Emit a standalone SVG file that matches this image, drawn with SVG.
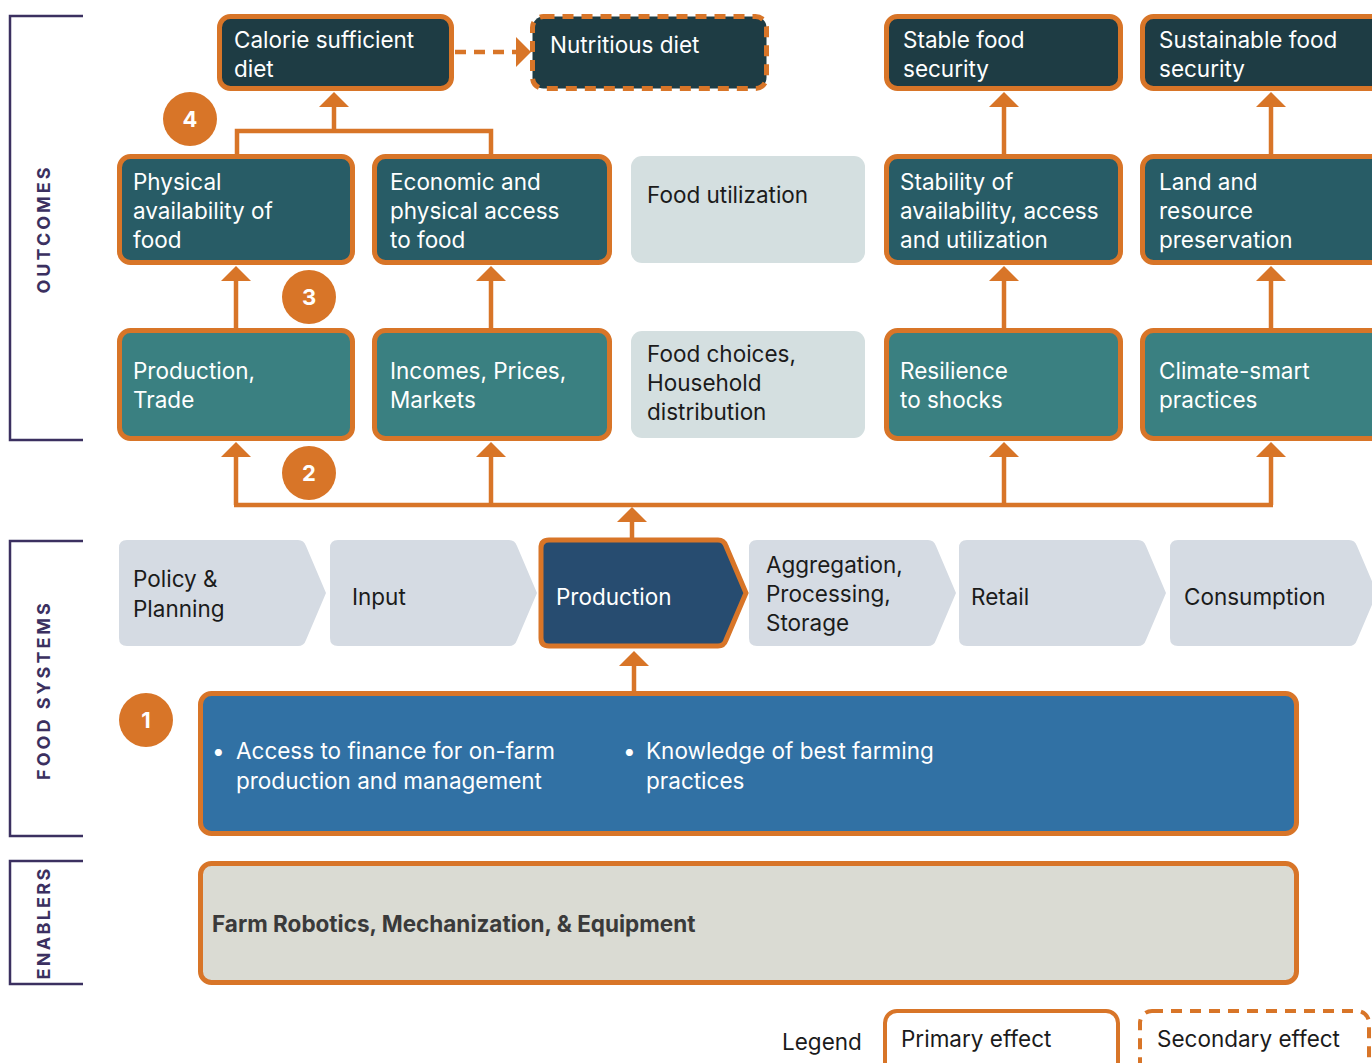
<svg xmlns="http://www.w3.org/2000/svg" width="1372" height="1063" viewBox="0 0 1372 1063">
<defs>
<style>
text{font-family:Inter,"Noto Sans","Liberation Sans",sans-serif;font-size:22.5px}
.w{fill:#ffffff}
.k{fill:#1b1b1b}
.box{stroke:#D87528;stroke-width:5}
.top{fill:#1E3C44}
.mid{fill:#285C66}
.bot{fill:#3A8081}
.light{fill:#D4DFE0}
.chev{fill:#D5DBE3}
.brk{fill:none;stroke:#3B3060;stroke-width:2.5}
.lab{font-weight:700;font-size:18px;letter-spacing:3px;fill:#3B3060}
.badge{fill:#D87528}
.num{font-weight:700;font-size:22px;fill:#ffffff;text-anchor:middle}
.con{fill:none;stroke:#D87528;stroke-width:4.5}
.dash{stroke-dasharray:11 8}
</style>
<marker id="ah" markerUnits="userSpaceOnUse" viewBox="0 0 15 30" refX="0" refY="15" markerWidth="15" markerHeight="30" orient="auto">
<path d="M0,0 L15,15 L0,30 Z" fill="#D87528"/>
</marker>
</defs>
<rect width="1372" height="1063" fill="#ffffff"/>

<g id="brackets">
<path class="brk" d="M83,16 H10 V440 H83"/>
<path class="brk" d="M83,541 H10 V836 H83"/>
<path class="brk" d="M83,861 H10 V984 H83"/>
<text class="lab" transform="translate(50,229) rotate(-90)" text-anchor="middle">OUTCOMES</text>
<text class="lab" transform="translate(50,690) rotate(-90)" text-anchor="middle">FOOD SYSTEMS</text>
<text class="lab" transform="translate(50,923) rotate(-90)" text-anchor="middle" style="letter-spacing:2.3px">ENABLERS</text>
</g>

<g id="connectors">
<path class="con" d="M237,154 V131 H491 V154"/>
<path class="con" d="M334,131 V107" marker-end="url(#ah)"/>
<path class="con dash" d="M455,52 H516" marker-end="url(#ah)"/>
<path class="con" d="M1004,154 V107" marker-end="url(#ah)"/>
<path class="con" d="M1271,154 V107" marker-end="url(#ah)"/>
<path class="con" d="M236,328 V281" marker-end="url(#ah)"/>
<path class="con" d="M491,328 V281" marker-end="url(#ah)"/>
<path class="con" d="M1004,328 V281" marker-end="url(#ah)"/>
<path class="con" d="M1271,328 V281" marker-end="url(#ah)"/>
<path class="con" d="M236,505 V457" marker-end="url(#ah)"/>
<path class="con" d="M491,505 V457" marker-end="url(#ah)"/>
<path class="con" d="M1004,505 V457" marker-end="url(#ah)"/>
<path class="con" d="M1271,505 V457" marker-end="url(#ah)"/>
<path class="con" d="M234,505 H1273"/>
<path class="con" d="M632,538 V522" marker-end="url(#ah)"/>
<path class="con" d="M634,691 V666" marker-end="url(#ah)"/>
</g>

<g id="calorie">
<rect class="box top" x="219.5" y="16.5" width="232" height="72" rx="11"/>
<text class="w" x="234" y="48">Calorie sufficient</text>
<text class="w" x="234" y="77">diet</text>
</g>
<g id="nutritious">
<rect class="box top dash" x="532.5" y="16.5" width="234" height="72" rx="11"/>
<text class="w" x="550" y="53">Nutritious diet</text>
</g>
<g id="stable">
<rect class="box top" x="886.5" y="16.5" width="234" height="72" rx="11"/>
<text class="w" x="903" y="48">Stable food</text>
<text class="w" x="903" y="77">security</text>
</g>
<g id="sustainable">
<rect class="box top" x="1142.5" y="16.5" width="240" height="72" rx="11"/>
<text class="w" x="1159" y="48">Sustainable food</text>
<text class="w" x="1159" y="77">security</text>
</g>

<g id="physical">
<rect class="box mid" x="119.5" y="156.5" width="233" height="106" rx="11"/>
<text class="w" x="133" y="190">Physical</text>
<text class="w" x="133" y="219">availability of</text>
<text class="w" x="133" y="248">food</text>
</g>
<g id="economic">
<rect class="box mid" x="374.5" y="156.5" width="235" height="106" rx="11"/>
<text class="w" x="390" y="190">Economic and</text>
<text class="w" x="390" y="219">physical access</text>
<text class="w" x="390" y="248">to food</text>
</g>
<g id="utilization">
<rect class="light" x="631" y="156" width="234" height="107" rx="11"/>
<text class="k" x="647" y="203">Food utilization</text>
</g>
<g id="stability">
<rect class="box mid" x="886.5" y="156.5" width="234" height="106" rx="11"/>
<text class="w" x="900" y="190">Stability of</text>
<text class="w" x="900" y="219">availability, access</text>
<text class="w" x="900" y="248">and utilization</text>
</g>
<g id="land">
<rect class="box mid" x="1142.5" y="156.5" width="240" height="106" rx="11"/>
<text class="w" x="1159" y="190">Land and</text>
<text class="w" x="1159" y="219">resource</text>
<text class="w" x="1159" y="248">preservation</text>
</g>

<g id="prodtrade">
<rect class="box bot" x="119.5" y="330.5" width="233" height="108" rx="11"/>
<text class="w" x="133" y="379">Production,</text>
<text class="w" x="133" y="408">Trade</text>
</g>
<g id="incomes">
<rect class="box bot" x="374.5" y="330.5" width="235" height="108" rx="11"/>
<text class="w" x="390" y="379">Incomes, Prices,</text>
<text class="w" x="390" y="408">Markets</text>
</g>
<g id="choices">
<rect class="light" x="631" y="331" width="234" height="107" rx="11"/>
<text class="k" x="647" y="362">Food choices,</text>
<text class="k" x="647" y="391">Household</text>
<text class="k" x="647" y="420">distribution</text>
</g>
<g id="resilience">
<rect class="box bot" x="886.5" y="330.5" width="234" height="108" rx="11"/>
<text class="w" x="900" y="379">Resilience</text>
<text class="w" x="900" y="408">to shocks</text>
</g>
<g id="climate">
<rect class="box bot" x="1142.5" y="330.5" width="240" height="108" rx="11"/>
<text class="w" x="1159" y="379">Climate-smart</text>
<text class="w" x="1159" y="408">practices</text>
</g>

<g id="policy">
<path class="chev" d="M127,540 H298 Q304,540 306,546 L326,593 L306,640 Q304,646 298,646 H127 Q119,646 119,638 V548 Q119,540 127,540 Z"/>
<text class="k" x="133" y="587">Policy &amp;</text>
<text class="k" x="133" y="617">Planning</text>
</g>
<g id="input">
<path class="chev" d="M338,540 H509 Q515,540 517,546 L537,593 L517,640 Q515,646 509,646 H338 Q330,646 330,638 V548 Q330,540 338,540 Z"/>
<text class="k" x="352" y="605">Input</text>
</g>
<g id="production">
<path class="box" fill="#274C70" d="M549,540 H718 Q724,540 726,546 L746,593 L726,640 Q724,646 718,646 H549 Q541,646 541,638 V548 Q541,540 549,540 Z"/>
<text class="w" x="556" y="605">Production</text>
</g>
<g id="aggregation">
<path class="chev" d="M757,540 H928 Q934,540 936,546 L956,593 L936,640 Q934,646 928,646 H757 Q749,646 749,638 V548 Q749,540 757,540 Z"/>
<text class="k" x="766" y="573">Aggregation,</text>
<text class="k" x="766" y="602">Processing,</text>
<text class="k" x="766" y="631">Storage</text>
</g>
<g id="retail">
<path class="chev" d="M967,540 H1138 Q1144,540 1146,546 L1166,593 L1146,640 Q1144,646 1138,646 H967 Q959,646 959,638 V548 Q959,540 967,540 Z"/>
<text class="k" x="971" y="605">Retail</text>
</g>
<g id="consumption">
<path class="chev" d="M1178,540 H1349 Q1355,540 1357,546 L1377,593 L1357,640 Q1355,646 1349,646 H1178 Q1170,646 1170,638 V548 Q1170,540 1178,540 Z"/>
<text class="k" x="1184" y="605">Consumption</text>
</g>

<g id="levers">
<rect class="box" fill="#3171A4" x="200.5" y="693.5" width="1096" height="140" rx="11"/>
<text class="w" x="212" y="759">•</text>
<text class="w" x="236" y="759">Access to finance for on-farm</text>
<text class="w" x="236" y="789">production and management</text>
<text class="w" x="623" y="759">•</text>
<text class="w" x="646" y="759">Knowledge of best farming</text>
<text class="w" x="646" y="789">practices</text>
</g>
<g id="enablers">
<rect class="box" fill="#DADBD3" x="200.5" y="863.5" width="1096" height="119" rx="11"/>
<text x="212" y="932" style="font-weight:700;font-size:22.5px;fill:#3a3a3a">Farm Robotics, Mechanization, &amp; Equipment</text>
</g>

<g id="badges">
<circle class="badge" cx="190" cy="119" r="27"/><text class="num" x="190" y="127">4</text>
<circle class="badge" cx="309" cy="297" r="27"/><text class="num" x="309" y="305">3</text>
<circle class="badge" cx="309" cy="473" r="27"/><text class="num" x="309" y="481">2</text>
<circle class="badge" cx="146" cy="720" r="27"/><text class="num" x="146" y="728">1</text>
</g>

<g id="legend">
<text class="k" x="782" y="1050">Legend</text>
<rect x="885" y="1011" width="233" height="70" rx="12" fill="#ffffff" stroke="#D87528" stroke-width="4"/>
<text class="k" x="901" y="1047">Primary effect</text>
<rect x="1140" y="1011" width="229" height="70" rx="12" fill="#ffffff" stroke="#D87528" stroke-width="4" stroke-dasharray="11 8"/>
<text class="k" x="1157" y="1047">Secondary effect</text>
</g>
</svg>
